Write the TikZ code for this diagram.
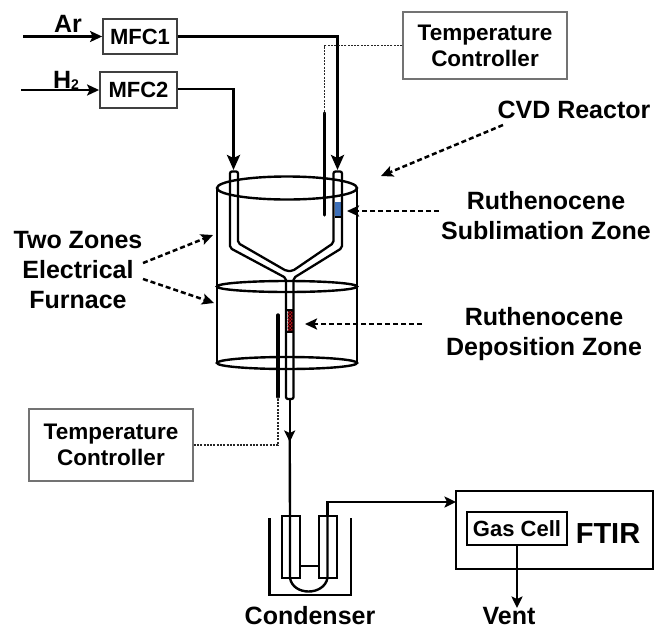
\documentclass[tikz,border=0pt]{standalone}
\usepackage{fontspec}
\setmainfont{Liberation Sans}
\usetikzlibrary{arrows.meta,patterns.meta}
\definecolor{subl}{RGB}{62,112,185}
\definecolor{depo}{RGB}{205,20,30}
\tikzset{
  x=1pt,y=-1pt,
  lbl/.style={font=\fontsize{25}{30}\selectfont\bfseries,inner sep=0pt,text=black,anchor=center,align=center},
  caption/.style={font=\fontsize{25}{30}\selectfont\bfseries,inner sep=0pt,text=black,anchor=center},
  box/.style={draw=black!75,line width=1.8pt,inner sep=0pt,font=\fontsize{22}{22}\selectfont\bfseries,anchor=center},
  pipe/.style={draw=black,line width=2.8pt,-{Stealth[length=15pt,width=13pt,inset=3pt]}},
  feed/.style={draw=black,line width=2.7pt,-{Stealth[length=12pt,width=11pt,inset=2.5pt]}},
  thinpipe/.style={draw=black,line width=2.4pt,-{Stealth[length=11.5pt,width=11pt,inset=2.5pt]}},
  pipeplain/.style={draw=black,line width=2.4pt},
  tube/.style={draw=black,line width=2.3pt,line join=round},
  wall/.style={draw=black,line width=2.4pt},
  probe/.style={draw=black,line width=3.4pt,line cap=round},
  dots/.style={draw=black!85,line width=1.4pt,dash pattern=on 2pt off 1.3pt},
  lead/.style={draw=black,line width=2.5pt,dash pattern=on 5pt off 3pt,-{Stealth[length=12pt,width=11pt,inset=2.5pt]}},
  tcbox/.style={draw=black!55,line width=1.3pt,inner sep=0pt,align=center,font=\fontsize{22.5}{26}\selectfont\bfseries,anchor=center},
}
\begin{document}
\begin{tikzpicture}
\useasboundingbox (0,0) rectangle (654,630);
% free ends
\coordinate (arin) at (23,36.5);
\coordinate (h2in) at (21,90);
\coordinate (ltop) at (233.5,170);
\coordinate (rtop) at (337.5,170);
\coordinate (dotT) at (324.5,113);
\coordinate (probeTb) at (324.5,215);
\coordinate (dotB) at (278,397);
\coordinate (probeBt) at (278,315);
\coordinate (tubeend) at (289.7,399);
\coordinate (tubetip) at (289.7,442);
\coordinate (condin) at (290,516);
\coordinate (condout) at (327.5,516);
\coordinate (ftirin) at (456,502);
\coordinate (ventend) at (517,608);
\coordinate (cvdfrom) at (503,125);
\coordinate (cvdto) at (381,176);
\coordinate (subfrom) at (439,211);
\coordinate (subto) at (347,211);
\coordinate (depfrom) at (422,324);
\coordinate (depto) at (305,324);
\coordinate (fa) at (143,263);
\coordinate (fb) at (143,279);
\coordinate (faTo) at (213,235);
\coordinate (fbTo) at (214,303);
% boxes
\node[box,minimum width=74pt,minimum height=35pt] (mfc1) at (140,36.5) {MFC1};
\node[box,minimum width=77pt,minimum height=36pt] (mfc2) at (138.5,90) {MFC2};
\node[tcbox,minimum width=164pt,minimum height=67pt] (tc1) at (485,45.5) {Temperature\\Controller};
\node[tcbox,minimum width=164pt,minimum height=72pt] (tc2) at (111,445) {Temperature\\Controller};
\node[draw=black,line width=2.2pt,minimum width=197pt,minimum height=78pt,inner sep=0pt] (ftir) at (554.5,530) {};
\node[draw=black,line width=2.2pt,minimum width=100pt,minimum height=33pt,inner sep=0pt,font=\fontsize{22}{22}\selectfont\bfseries] (gas) at (517,528.5) {Gas Cell};
\node[caption,font=\fontsize{29}{29}\selectfont\bfseries] (ftirl) at (608,533.5) {FTIR};
% labels
\node[caption] (ar) at (68,24) {Ar};
\node[caption] (h2) at (66,80) {H\raisebox{-1pt}{\fontsize{14}{14}\selectfont 2}};
\node[lbl] (cvd) at (574,110) {CVD Reactor};
\node[lbl] (subl) at (546,215.5) {Ruthenocene\\Sublimation Zone};
\node[lbl] (depl) at (544,334.5) {Ruthenocene\\Deposition Zone};
\node[lbl] (furn) at (78,270) {Two Zones\\Electrical\\Furnace};
\node[caption] (cond) at (310,616) {Condenser};
\node[caption] (vent) at (509,616) {Vent};
% furnace
\draw[wall] (217,188) -- (217,363);
\draw[wall] (357,188) -- (357,363);
\draw[wall] (287,188) ellipse [x radius=70,y radius=11.5];
\draw[wall] (287,286.5) ellipse [x radius=70,y radius=5.5];
\draw[wall] (287,363) ellipse [x radius=70,y radius=6];
% zones
\fill[subl] (335,202) rectangle (341,217);
\fill[depo] (287.5,310) rectangle (292.5,332);
\fill[pattern={Lines[angle=45,distance=2.4pt,line width=.5pt]},pattern color=black] (287.5,310) rectangle (292.5,332);
\fill[pattern={Lines[angle=-45,distance=2.4pt,line width=.5pt]},pattern color=black] (287.5,310) rectangle (292.5,332);
\draw[tube] (335,217) -- (341,217);
\draw[tube] (287,332) -- (293,332);
\draw[tube] (287,310) -- (293,310);
% quartz tube
\draw[tube,rounded corners=2pt] (230,248) -- (230,171.5) -- (238,171.5) -- (238,243) -- (286.5,271) -- (292.5,271) -- (333.5,243) -- (333.5,171.5) -- (342,171.5) -- (342,248) -- (293.5,278) -- (293.5,399) -- (286,399) -- (286,278) -- cycle;
% probes
\draw[probe] (dotT) -- (probeTb);
\draw[probe] (probeBt) -- (dotB);
% connectors
\draw[feed] (arin) -- (mfc1.west);
\draw[feed] (h2in) -- (mfc2.west);
\draw[pipe] (mfc1.east) -| (rtop);
\draw[pipe] (mfc2.east |- 0,89) -| (ltop);
\draw[dots] (tc1.west) -| (dotT);
\draw[dots] (tc2.east) -| (dotB);
\draw[thinpipe] (tubeend) -- (tubetip);
\draw[pipeplain] (tubetip) ++(0,-4) -- (condin);
\draw[thinpipe] (condout) |- (ftirin);
\draw[thinpipe] (gas.south) -- (ventend);
% condenser
\draw[wall] (269.5,518) -- (269.5,595) -- (351,595) -- (351,518);
\draw[wall] (282,516) rectangle (300,578);
\draw[wall] (319,516) rectangle (337,578);
\draw[wall] (condin) -- (290,578) .. controls (293,596) and (324,596) .. (327.5,578) -- (condout);
\draw[wall] (300,566) -- (319,566);
% lead arrows
\draw[lead] (cvdfrom) -- (cvdto);
\draw[lead] (subfrom) -- (subto);
\draw[lead] (depfrom) -- (depto);
\draw[lead] (fa) -- (faTo);
\draw[lead] (fb) -- (fbTo);
\end{tikzpicture}
\end{document}
